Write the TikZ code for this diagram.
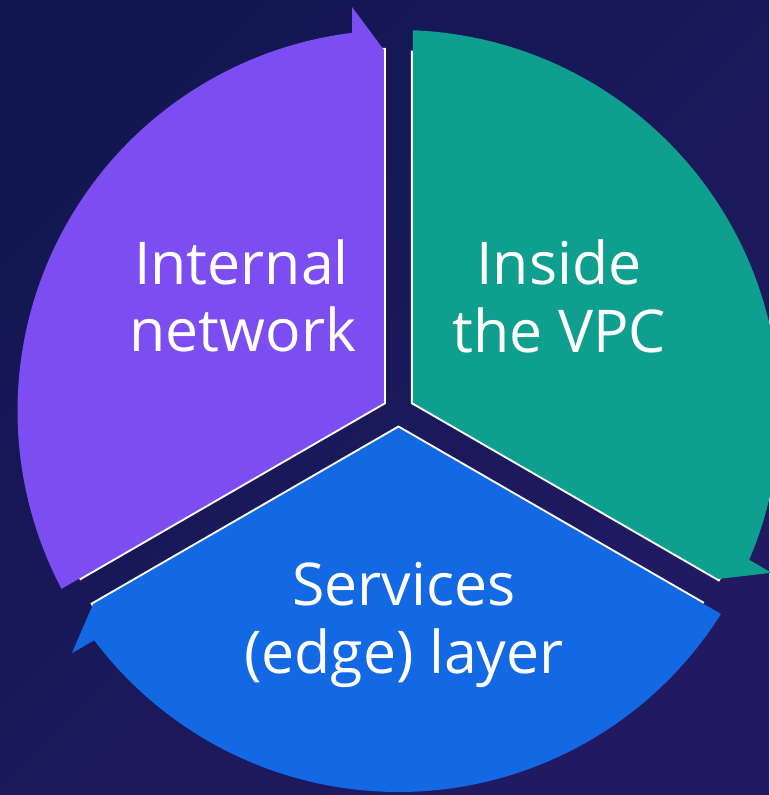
\documentclass[tikz,border=0pt]{standalone}
\usepackage{fontspec}
\setmainfont{Open Sans}
\definecolor{bgA}{HTML}{121751}
\definecolor{bgB}{HTML}{211A63}
\definecolor{segpurple}{HTML}{7C4DF0}
\definecolor{segteal}{HTML}{0F9F8F}
\definecolor{segblue}{HTML}{1368E3}
% One segment of the cycle, drawn with its arrow end at the top gap
\newcommand\segshape{(-14.5,8.37) -- (207.82:381)
  arc[start angle=207.82,end angle=97,radius=381]
  -- ++(0,25.8) -- (-14.5,361) -- cycle}
% Straight inner edges of a segment (the white rims along the gaps)
\newcommand\segrim{(-14.5,363) -- (-14.5,8.37) -- ++(210:352)}
\begin{document}
\begin{tikzpicture}[x=1pt,y=1pt,
  rim/.style={draw=white,line width=4pt,line join=miter},
  lbl/.style={text=white,anchor=base,inner sep=0pt,
    font=\fontsize{59}{66}\selectfont}]
  % background
  \shade[top color=bgA,bottom color=bgB,shading angle=45]
    (-398.5,-384) rectangle (370.5,411);
  \useasboundingbox (-398.5,-384) rectangle (370.5,411);
  % white rims first, so the fills cover their inner half
  \draw[rim] \segrim;
  \begin{scope}[rotate=-120] \draw[rim] \segrim; \end{scope}
  \begin{scope}[rotate=120]  \draw[rim] \segrim; \end{scope}
  % the three segments
  \fill[segpurple] \segshape;
  \begin{scope}[rotate=-120] \fill[segteal] \segshape; \end{scope}
  \begin{scope}[rotate=120]  \fill[segblue] \segshape; \end{scope}
  % labels
  \node[lbl] (int1) at (-157,126) {Internal};
  \node[lbl] (int2) at (-155.5,59.3) {network};
  \node[lbl] (vpc1) at (160.5,126) {Inside};
  \node[lbl] (vpc2) at (161,58) {the VPC};
  \node[lbl] (svc1) at (5.5,-194) {Services};
  \node[lbl] (svc2) at (5.5,-262) {(edge) layer};
\end{tikzpicture}
\end{document}
